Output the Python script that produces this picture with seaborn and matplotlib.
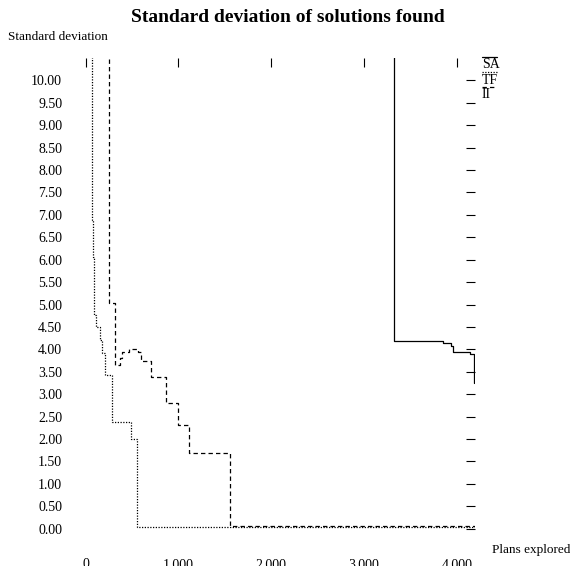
import matplotlib
matplotlib.use("Agg")
import matplotlib.pyplot as plt
import seaborn as sns
import pandas as pd
from matplotlib.lines import Line2D

# ---- data ----
sa_plans = [3324, 3324, 3845, 3932, 3955, 4140, 4187]
sa_sd    = [20.0, 4.19, 4.13, 4.08, 3.93, 3.89, 3.25]

tf_plans = [72, 72, 79, 94, 115, 151, 180, 205, 286, 491, 555, 4194]
tf_sd    = [20.0, 6.88, 6.06, 4.77, 4.50, 4.21, 3.92, 3.43, 2.37, 2.00, 0.045, 0.04]

ii_plans = [251, 251, 313, 374, 396, 467, 560, 601, 708, 863, 995, 1114, 1553, 4194]
ii_sd    = [20.0, 5.04, 3.65, 3.80, 3.93, 4.01, 3.95, 3.73, 3.38, 2.80, 2.32, 1.69, 0.05, 0.03]

series_names = ["SA", "TF", "II"]

x_ticks = [0, 1000, 2000, 3000, 4000]
x_tick_labels = ["0", "1,000", "2,000", "3,000", "4,000"]
y_ticks = [0.0, 0.5, 1.0, 1.5, 2.0, 2.5, 3.0, 3.5, 4.0, 4.5, 5.0,
           5.5, 6.0, 6.5, 7.0, 7.5, 8.0, 8.5, 9.0, 9.5, 10.0]
y_tick_labels = ["0.00", "0.50", "1.00", "1.50", "2.00", "2.50", "3.00", "3.50",
                 "4.00", "4.50", "5.00", "5.50", "6.00", "6.50", "7.00", "7.50",
                 "8.00", "8.50", "9.00", "9.50", "10.00"]

title = "Standard deviation of solutions found"
x_label = "Plans explored"
y_label = "Standard deviation"

# ---- build long-form table ----
frames = []
for name, xs, ys in [("SA", sa_plans, sa_sd), ("TF", tf_plans, tf_sd), ("II", ii_plans, ii_sd)]:
    frames.append(pd.DataFrame({"plans": xs, "sd": ys, "method": name}))
df = pd.concat(frames, ignore_index=True)

sns.set_theme(style="white")
plt.rcParams["font.family"] = ["Liberation Serif", "DejaVu Serif"]
plt.rcParams["text.color"] = "black"
plt.rcParams["axes.labelcolor"] = "black"
plt.rcParams["xtick.color"] = "black"
plt.rcParams["ytick.color"] = "black"

W, H = 570, 566
fig = plt.figure(figsize=(W / 100, H / 100), dpi=100)
L, R, T, B = 67, 475, 58, 551
ax = fig.add_axes([L / W, 1 - B / H, (R - L) / W, (B - T) / H])

styles = {"SA": "", "TF": (1, 1.2), "II": (3.5, 2.5)}
sns.lineplot(data=df, x="plans", y="sd", hue="method", style="method",
             hue_order=series_names, style_order=series_names,
             palette={"SA": "black", "TF": "black", "II": "black"},
             dashes=styles, estimator=None, sort=False,
             drawstyle="steps-post", linewidth=0.9, legend=False, ax=ax)

ax.set_xlim(-200, 4194)
ax.set_ylim(-0.5, 10.5)
for s in ax.spines.values():
    s.set_visible(False)
ax.grid(False)

ax.set_xticks(x_ticks)
ax.set_xticklabels(x_tick_labels)
ax.set_yticks(y_ticks)
ax.set_yticklabels(y_tick_labels)
ax.tick_params(axis="both", direction="in", length=6.5, width=0.8,
               top=True, right=True, labelsize=10)
ax.tick_params(axis="y", pad=3.5)
ax.tick_params(axis="x", pad=5)

ax.set_xlabel(x_label, fontsize=9.5, ha="left", va="center")
ax.xaxis.set_label_coords((492 - L) / (R - L), (B - 550) / (B - T))
ax.set_ylabel(y_label, fontsize=9.5, rotation=0, ha="left", va="center")
ax.yaxis.set_label_coords((8 - L) / (R - L), (B - 37) / (B - T))

fig.text(288 / W, 1 - 17 / H, title, ha="center", va="center",
         fontsize=14, fontweight="bold")

# legend: sample line drawn above each label
leg_rows = [("SA", "-", 57), ("TF", (0, (1, 1.2)), 72), ("II", (0, (3.5, 2.5)), 87)]
for lab, ls, yl in leg_rows:
    fig.add_artist(Line2D([482 / W, 497 / W], [1 - yl / H, 1 - yl / H],
                          transform=fig.transFigure, color="black",
                          linewidth=0.9, linestyle=ls))
    fig.text(482 / W, 1 - (yl + 8) / H, lab, ha="left", va="center", fontsize=10)

fig.savefig("out.png", dpi=100)
